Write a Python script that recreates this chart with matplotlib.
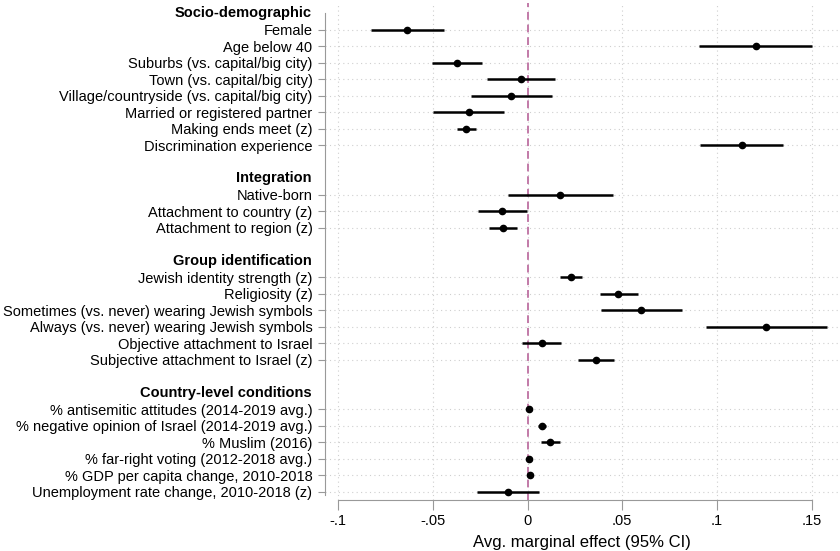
import matplotlib
matplotlib.use("Agg")
import matplotlib.pyplot as plt

plt.rcParams['font.family'] = ['Liberation Sans', 'DejaVu Sans']

# -- data (avg. marginal effects, 95% CI) --
groups = ["Socio-demographic", "Integration", "Group identification", "Country-level conditions"]

socio_labels = ["Female", "Age below 40", "Suburbs (vs. capital/big city)",
                "Town (vs. capital/big city)", "Village/countryside (vs. capital/big city)",
                "Married or registered partner", "Making ends meet (z)",
                "Discrimination experience"]
socio_est = [-0.0636, 0.1205, -0.0375, -0.0035, -0.0087, -0.0312, -0.0324, 0.1130]
socio_lo = [-0.0827, 0.0906, -0.0505, -0.0215, -0.0299, -0.0500, -0.0372, 0.0910]
socio_hi = [-0.0444, 0.1505, -0.0241, 0.0146, 0.0130, -0.0123, -0.0275, 0.1350]

integ_labels = ["Native-born", "Attachment to country (z)", "Attachment to region (z)"]
integ_est = [0.0172, -0.0134, -0.0130]
integ_lo = [-0.0104, -0.0264, -0.0204]
integ_hi = [0.0450, -0.0002, -0.0055]

ident_labels = ["Jewish identity strength (z)", "Religiosity (z)",
                "Sometimes (vs. never) wearing Jewish symbols",
                "Always (vs. never) wearing Jewish symbols",
                "Objective attachment to Israel", "Subjective attachment to Israel (z)"]
ident_est = [0.0230, 0.0480, 0.0600, 0.1260, 0.0076, 0.0360]
ident_lo = [0.0172, 0.0382, 0.0389, 0.0941, -0.0028, 0.0267]
ident_hi = [0.0290, 0.0581, 0.0815, 0.1579, 0.0177, 0.0456]

country_labels = ["% antisemitic attitudes (2014-2019 avg.)",
                  "% negative opinion of Israel (2014-2019 avg.)",
                  "% Muslim (2016)", "% far-right voting (2012-2018 avg.)",
                  "% GDP per capita change, 2010-2018",
                  "Unemployment rate change, 2010-2018 (z)"]
country_est = [0.0010, 0.0075, 0.0120, 0.0009, 0.0014, -0.0104]
country_lo = [0.0005, 0.0056, 0.0072, 0.0003, 0.0002, -0.0268]
country_hi = [0.0015, 0.0098, 0.0170, 0.0015, 0.0026, 0.0060]

blocks = [
    (socio_labels, socio_est, socio_lo, socio_hi),
    (integ_labels, integ_est, integ_lo, integ_hi),
    (ident_labels, ident_est, ident_lo, ident_hi),
    (country_labels, country_est, country_lo, country_hi),
]

xticks = [-0.1, -0.05, 0, 0.05, 0.1, 0.15]
xticklabels = ["-.1", "-.05", "0", ".05", ".1", ".15"]

# build row positions: header, items, blank gap
rows, ests, los, his = [], [], [], []
headers = []
pos = 0
for name, (labs, est, lo, hi) in zip(groups, blocks):
    headers.append((pos, name))
    pos += 1
    for lab, e, l, h in zip(labs, est, lo, hi):
        rows.append((pos, lab))
        ests.append(e); los.append(l); his.append(h)
        pos += 1
    pos += 1
last_row = rows[-1][0]

fig = plt.figure(figsize=(8.4, 5.51), dpi=100)
ax = fig.add_axes([325 / 840, 1 - 500 / 551, 514 / 840, 497 / 551])

ypos = [r[0] for r in rows]
grid_kw = dict(color="#cfcfcf", lw=0.8, ls=(0, (1, 3)), zorder=0)
for y in ypos:
    ax.axhline(y, **grid_kw)
for x in xticks:
    ax.axvline(x, **grid_kw)

ax.axvline(0, color="#c27aa8", lw=1.4, ls=(0, (4, 2.5)), zorder=1)

ax.hlines(ypos, los, his, color="black", lw=1.8, zorder=2)
ax.plot(ests, ypos, "o", color="black", ms=4.5, zorder=3)

ax.set_xlim(-0.107, 0.1645)
ax.set_ylim(last_row + 0.5, -0.62)

fs = 10.5
ax.set_yticks(ypos)
ax.set_yticklabels([r[1] for r in rows], fontsize=fs)
for y, name in headers:
    ax.text(-0.0255, y, name, transform=ax.get_yaxis_transform(), ha="right",
            va="center", fontsize=fs, fontweight="bold")

ax.set_xticks(xticks)
ax.set_xticklabels(xticklabels, fontsize=fs)
ax.set_xlabel("Avg. marginal effect (95% CI)", fontsize=12, labelpad=5)

for s in ["top", "right"]:
    ax.spines[s].set_visible(False)
ax.spines["left"].set_color("#999999")
ax.spines["bottom"].set_color("#999999")
ax.spines["left"].set_bounds(0, last_row + 0.2)
ax.spines["bottom"].set_bounds(-0.1, 0.15)
ax.tick_params(axis="y", length=5, color="#999999", pad=4)
ax.tick_params(axis="x", length=7, color="#999999", pad=3)

fig.savefig("out.png", dpi=100)
